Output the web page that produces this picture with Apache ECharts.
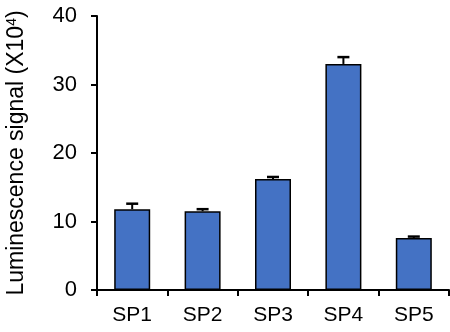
<!DOCTYPE html>
<html>
<head>
<meta charset="utf-8">
<script src="https://cdn.jsdelivr.net/npm/echarts@6/dist/echarts.min.js"></script>
<style>html,body{margin:0;padding:0;background:#fff;}#c{width:450px;height:332px;}</style>
</head>
<body>
<div id="c"></div>
<script>
const categories = ['SP1', 'SP2', 'SP3', 'SP4', 'SP5'];
const values = [11.8, 11.5, 16.2, 33.0, 7.6];
const errors = [0.8, 0.3, 0.3, 1.0, 0.2];
const yTicks = [0, 10, 20, 30, 40];

const font = 'Liberation Sans, Arial, sans-serif';
const chart = echarts.init(document.getElementById('c'), null, {renderer: 'canvas'});
chart.setOption({
  animation: false,
  grid: {left: 97, right: 1, top: 16, bottom: 42, containLabel: false, outerBoundsMode: 'none'},
  xAxis: {
    type: 'category',
    data: categories,
    axisLine: {lineStyle: {color: '#000', width: 2}},
    axisTick: {show: true, alignWithLabel: false, length: 6, lineStyle: {color: '#000', width: 2}},
    axisLabel: {color: '#000', fontSize: 21, fontFamily: font, margin: 15}
  },
  yAxis: {
    type: 'value',
    min: yTicks[0], max: yTicks[yTicks.length - 1], interval: 10,
    name: 'Luminescence signal (X10{sup|4})',
    nameLocation: 'middle',
    nameGap: 68,
    nameRotate: 90,
    nameTextStyle: {color: '#000', fontSize: 23, fontFamily: font,
      rich: {sup: {fontSize: 14, verticalAlign: 'top', padding: [0, 0, 10, 0], color: '#000', fontFamily: font}}},
    axisLine: {show: true, lineStyle: {color: '#000', width: 2}},
    axisTick: {show: true, length: 6, lineStyle: {color: '#000', width: 2}},
    axisLabel: {color: '#000', fontSize: 22, fontFamily: font, margin: 20},
    splitLine: {show: false}
  },
  series: [
    {
      type: 'bar',
      data: values,
      barWidth: 36,
      itemStyle: {color: '#4472C4', borderColor: '#000', borderWidth: 1.5}
    },
    {
      type: 'custom',
      data: values.map((v, i) => [i, v, errors[i]]),
      renderItem: function (params, api) {
        const x = api.value(0);
        const v = api.value(1);
        const e = api.value(2);
        const p0 = api.coord([x, v]);
        const p1 = api.coord([x, v + e]);
        const hw = 6;
        return {
          type: 'group',
          children: [
            {type: 'line', shape: {x1: p0[0], y1: p0[1], x2: p1[0], y2: p1[1]}, style: {stroke: '#000', lineWidth: 2}},
            {type: 'line', shape: {x1: p1[0] - hw, y1: p1[1], x2: p1[0] + hw, y2: p1[1]}, style: {stroke: '#000', lineWidth: 2.5}}
          ]
        };
      },
      z: 3
    }
  ]
});
</script>
</body>
</html>
